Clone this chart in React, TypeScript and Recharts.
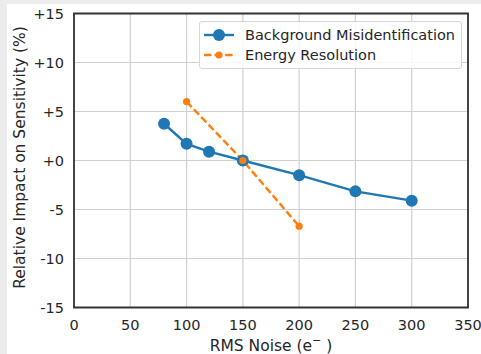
import { LineChart, Line, XAxis, YAxis, CartesianGrid, ReferenceArea, Label } from 'recharts';

// RMS noise (e-) and relative impact on sensitivity (%)
const noiseBkg = [80, 100, 120, 150, 200, 250, 300];
const impactBkg = [3.75, 1.7, 0.9, 0, -1.5, -3.15, -4.1];
const noiseRes = [100, 150, 200];
const impactRes = [6.0, 0, -6.7];

const xTicks = [0, 50, 100, 150, 200, 250, 300, 350];
const yTicks = [-15, -10, -5, 0, 5, 10, 15];

const bkgData = noiseBkg.map((x, i) => ({ noise: x, impact: impactBkg[i] }));
const resData = noiseRes.map((x, i) => ({ noise: x, impact: impactRes[i] }));

const FONT = '"DejaVu Sans", sans-serif';
const FS = 14.5;
const LABEL_FS = 15.5;
const INK = '#262626';
const BLUE = '#1f77b4';
const ORANGE = '#ff7f0e';

const series = [
  { name: 'Background Misidentification', color: BLUE, dash: undefined as string | undefined, r: 6 },
  { name: 'Energy Resolution', color: ORANGE, dash: '7.4 3.2', r: 3.6 },
];

function signed(v: number): string {
  return v >= 0 ? `+${v}` : `${v}`;
}

function LegendBox() {
  return (
    <div
      style={{
        position: 'absolute',
        left: 199,
        top: 21,
        width: 263,
        height: 48,
        padding: '2.5px 0 0 0',
        boxSizing: 'border-box',
        border: '1px solid #d6d6d6',
        borderRadius: 3,
        background: 'rgba(255,255,255,0.85)',
        fontFamily: FONT,
        fontSize: FS,
        color: INK,
      }}
    >
      {series.map(s => (
        <div key={s.name} style={{ display: 'flex', alignItems: 'center', height: 20.6 }}>
          <svg width={30} height={14} style={{ marginLeft: 4, marginRight: 11 }}>
            <line x1={0} y1={7} x2={30} y2={7} stroke={s.color} strokeWidth={2.4} strokeDasharray={s.dash} />
            <circle cx={15} cy={7} r={s.r} fill={s.color} />
          </svg>
          <span style={{ whiteSpace: 'nowrap' }}>{s.name}</span>
        </div>
      ))}
    </div>
  );
}

export default function App() {
  return (
    <div style={{ position: 'fixed', left: 0, top: 0, width: 481, height: 354, background: '#ececec' }}>
      <div style={{ position: 'absolute', left: 7, top: 4, width: 474, height: 350, background: '#fff' }} />
      <div style={{ position: 'absolute', left: 0, top: 0 }}>
        <LineChart width={481} height={354} margin={{ top: 13.5, right: 13, bottom: 0, left: 0 }}>
          <CartesianGrid stroke="#d0d0d0" strokeWidth={1.2} horizontalValues={yTicks} verticalValues={xTicks} />
          <XAxis
            dataKey="noise"
            type="number"
            domain={[0, 350]}
            ticks={xTicks}
            allowDataOverflow
            height={46.5}
            tickLine={false}
            tickSize={0}
            tickMargin={12}
            axisLine={false}
            tick={{ fontSize: FS, fill: INK, fontFamily: FONT }}
          >
            <Label
              content={(p: any) => {
                const vb = p.viewBox;
                const cx = vb.x + vb.width / 2;
                return (
                  <text x={cx} y={vb.y + vb.height - 3.5} textAnchor="middle" fontSize={LABEL_FS} fill={INK} fontFamily={FONT}>
                    <tspan>RMS Noise (e</tspan>
                    <tspan dy={-6.5} fontSize={11}>−</tspan>
                    <tspan dy={6.5}> )</tspan>
                  </text>
                );
              }}
            />
          </XAxis>
          <YAxis
            dataKey="impact"
            type="number"
            domain={[-15, 15]}
            ticks={yTicks}
            width={74}
            tickLine={false}
            tickSize={0}
            tickMargin={10}
            axisLine={false}
            tickFormatter={signed}
            tick={{ fontSize: FS, fill: INK, fontFamily: FONT }}
          >
            <Label
              content={(p: any) => {
                const vb = p.viewBox;
                const cx = vb.x + 20;
                const cy = vb.y + vb.height / 2 - 3;
                return (
                  <text
                    x={cx}
                    y={cy}
                    transform={`rotate(-90 ${cx} ${cy})`}
                    textAnchor="middle"
                    dominantBaseline="central"
                    fontSize={LABEL_FS}
                    fill={INK}
                    fontFamily={FONT}
                  >
                    Relative Impact on Sensitivity (%)
                  </text>
                );
              }}
            />
          </YAxis>
          <ReferenceArea x1={0} x2={350} y1={-15} y2={15} fill="none" stroke="#333" strokeWidth={1.8} />
          <Line
            data={bkgData}
            dataKey="impact"
            name={series[0].name}
            stroke={BLUE}
            strokeWidth={2.4}
            dot={{ r: 6, fill: BLUE, stroke: BLUE, strokeWidth: 0 }}
            isAnimationActive={false}
          />
          <Line
            data={resData}
            dataKey="impact"
            name={series[1].name}
            stroke={ORANGE}
            strokeWidth={2.4}
            strokeDasharray="7.4 3.2"
            dot={{ r: 3.6, fill: ORANGE, stroke: ORANGE, strokeWidth: 0 }}
            isAnimationActive={false}
          />
        </LineChart>
      </div>
      <LegendBox />
    </div>
  );
}
